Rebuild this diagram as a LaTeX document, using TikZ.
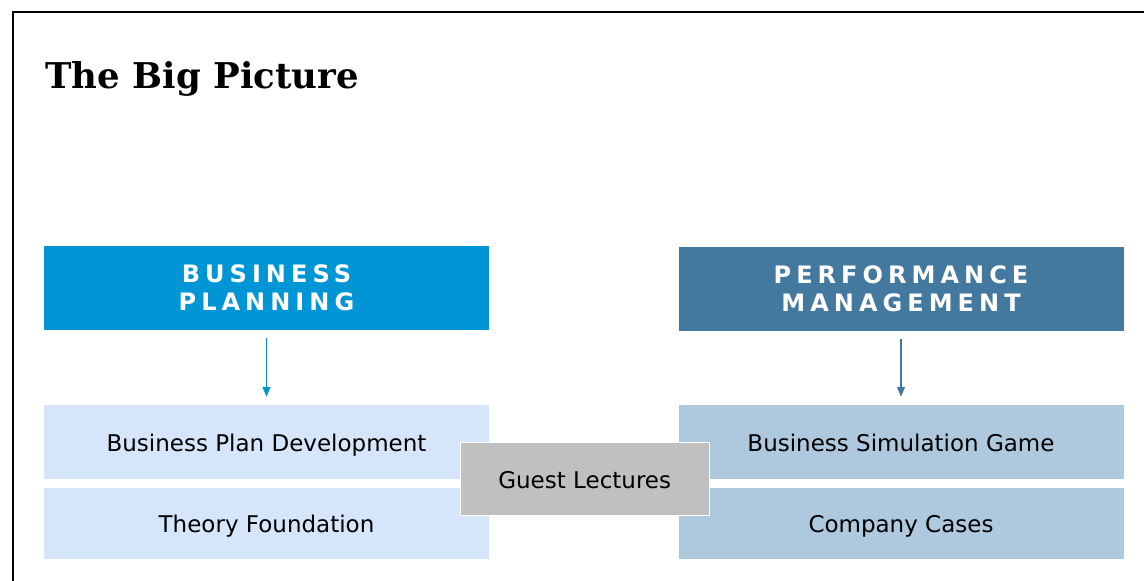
\documentclass[tikz,border=0pt]{standalone}
\usepackage{fontspec}
\setmainfont{DejaVu Sans}
\newfontfamily\titlefont{DejaVu Serif}
\newfontfamily\headfont[LetterSpace=21]{DejaVu Sans}
\usetikzlibrary{arrows.meta}
\definecolor{bpblue}{RGB}{0,150,214}
\definecolor{pmblue}{RGB}{68,121,159}
\definecolor{bplight}{RGB}{213,229,250}
\definecolor{pmlight}{RGB}{174,201,221}
\definecolor{guestgray}{RGB}{192,192,192}
\begin{document}
\begin{tikzpicture}[x=1pt,y=-1pt,
  head/.style={rectangle,minimum width=445pt,minimum height=84pt,inner sep=0pt,align=center,text=white,font=\headfont\bfseries\fontsize{24}{28}\selectfont},
  item/.style={rectangle,minimum width=445pt,inner sep=0pt,text height=18pt,text depth=0pt,font=\fontsize{23}{27}\selectfont},
  link/.style={-{Triangle[width=8pt,length=10pt]},line width=1.3pt}]
\useasboundingbox (0,0) rectangle (1144,581);
\clip (0,0) rectangle (1144,581);
\draw[line width=2pt] (13,11.7) rectangle (1170,600);
\node[anchor=base west,font=\titlefont\bfseries\fontsize{35.5}{40}\selectfont] (title) at (42,88) {The Big Picture};
\node[head,fill=bpblue] (bp) at (266.5,288) {BUSINESS\\PLANNING};
\node[head,fill=pmblue] (pm) at (901,288.5) {PERFORMANCE\\MANAGEMENT};
\node[item,fill=bplight,minimum height=74pt] (bpd) at (266.5,442) {Business Plan Development};
\node[item,fill=bplight,minimum height=71pt] (tf) at (266.5,523.5) {Theory Foundation};
\node[item,fill=pmlight,minimum height=74pt] (bsg) at (901,442) {Business Simulation Game};
\node[item,fill=pmlight,minimum height=71pt] (cc) at (901,523.5) {Company Cases};
\node[item,fill=guestgray,draw=white,line width=1pt,minimum width=249pt,minimum height=73pt] (gl) at (584.7,479.3) {Guest Lectures};
\draw[link,bpblue,shorten <=8pt,shorten >=8pt] (bp) -- (bpd);
\draw[link,pmblue,shorten <=8pt,shorten >=8pt] (pm) -- (bsg);
\end{tikzpicture}
\end{document}
